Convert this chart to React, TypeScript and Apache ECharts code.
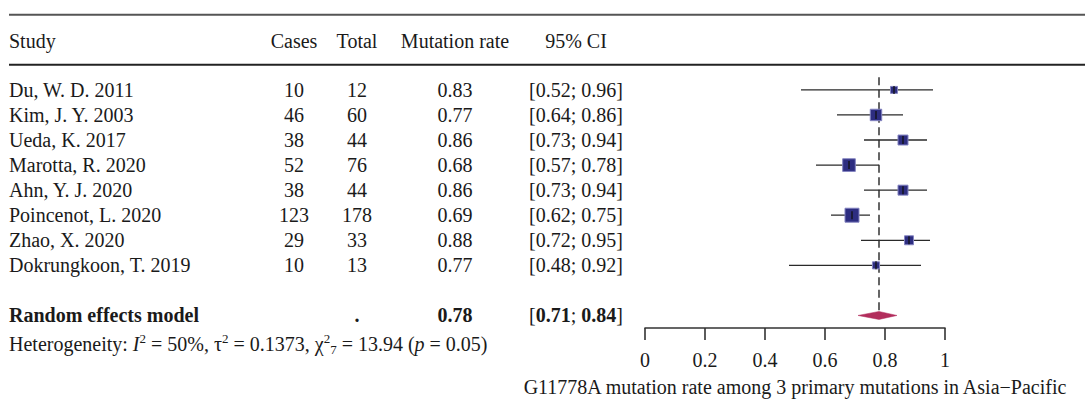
import React, { useEffect, useRef } from "react";
import * as echarts from "echarts";

const studies = [
  "Du, W. D. 2011",
  "Kim, J. Y. 2003",
  "Ueda, K. 2017",
  "Marotta, R. 2020",
  "Ahn, Y. J. 2020",
  "Poincenot, L. 2020",
  "Zhao, X. 2020",
  "Dokrungkoon, T. 2019",
];
const cases = [10, 46, 38, 52, 38, 123, 29, 10];
const totals = [12, 60, 44, 76, 44, 178, 33, 13];
const rates = [0.83, 0.77, 0.86, 0.68, 0.86, 0.69, 0.88, 0.77];
const ciLow = [0.52, 0.64, 0.73, 0.57, 0.73, 0.62, 0.72, 0.48];
const ciHigh = [0.96, 0.86, 0.94, 0.78, 0.94, 0.75, 0.95, 0.92];
const weights = [5.6, 15.2, 11.5, 18.5, 11.5, 22.6, 9.3, 5.8];

const headers = ["Study", "Cases", "Total", "Mutation rate", "95% CI"];
const pooledLabel = "Random effects model";
const pooledRate = 0.78;
const pooledLow = 0.71;
const pooledHigh = 0.84;
const heterogeneity = { i2: "50%", tau2: "0.1373", chi2: "13.94", df: "7", p: "0.05" };
const xTicks = [0, 0.2, 0.4, 0.6, 0.8, 1];
const axisTitle = "G11778A mutation rate among 3 primary mutations in Asia\u2212Pacific";

const FONT = "Liberation Serif";
const FS = 20;
const INK = "#1a1a1a";
const COLS = { study: 9, cases: 294, total: 357, rate: 455, ci: 576 };

const txt = (x: number, y: number, text: string, align = "center", weight = "normal", rich?: any) => ({
  type: "text",
  x,
  y,
  style: {
    text,
    fontFamily: FONT,
    fontSize: FS,
    fontWeight: weight,
    fill: INK,
    align,
    verticalAlign: "middle",
    rich,
  },
});

export default function App() {
  const ref = useRef<HTMLDivElement>(null);
  useEffect(() => {
    document.body.style.margin = "0";
    document.body.style.overflow = "hidden";
    const chart = echarts.init(ref.current!, null, { renderer: "svg" });
    const studyRows = studies.map((_, i) => [rates[i], i, ciLow[i], ciHigh[i], weights[i]]);
    const option: any = {
      animation: false,
      textStyle: { fontFamily: FONT },
      grid: { left: 645, right: 142, top: 14.7, bottom: 70.7 },
      xAxis: {
        type: "value",
        min: xTicks[0],
        max: xTicks[xTicks.length - 1],
        interval: 0.2,
        splitLine: { show: false },
        axisLine: { show: true, onZero: false, lineStyle: { color: "#333", width: 1.6 } },
        axisTick: { show: true, length: 12, lineStyle: { color: "#333", width: 1.6 } },
        axisLabel: { margin: 22, fontFamily: FONT, fontSize: FS, color: INK },
        name: axisTitle,
        nameLocation: "middle",
        nameGap: 49,
        nameTextStyle: { fontFamily: FONT, fontSize: FS, color: INK },
      },
      yAxis: { type: "value", inverse: true, min: -3, max: 9.5, show: false },
      series: [
        {
          type: "custom",
          data: [[0, -3], [0, -1]],
          renderItem: (params: any, api: any) => {
            const y = api.coord([0, api.value(1)])[1];
            return {
              type: "line",
              shape: { x1: 9, y1: y, x2: 1085, y2: y },
              style: { stroke: params.dataIndex === 0 ? "#555" : "#222", lineWidth: 2 },
            };
          },
        },
        {
          type: "custom",
          data: [[0, -1.95]],
          renderItem: (_p: any, api: any) => {
            const y = api.coord([0, api.value(1)])[1];
            return {
              type: "group",
              children: [
                txt(COLS.study, y, headers[0], "left"),
                txt(COLS.cases, y, headers[1]),
                txt(COLS.total, y, headers[2]),
                txt(COLS.rate, y, headers[3]),
                txt(COLS.ci, y, headers[4]),
              ],
            };
          },
        },
        {
          type: "custom",
          data: [[pooledRate, -0.5, 8.8]],
          renderItem: (_p: any, api: any) => {
            const p1 = api.coord([api.value(0), api.value(1)]);
            const p2 = api.coord([api.value(0), api.value(2)]);
            return {
              type: "line",
              shape: { x1: p1[0], y1: p1[1], x2: p2[0], y2: p2[1] },
              style: { stroke: "#333", lineWidth: 1.5, lineDash: [8, 4.5] },
            };
          },
        },
        {
          type: "custom",
          data: studyRows,
          renderItem: (params: any, api: any) => {
            const i = params.dataIndex;
            const row = api.value(1);
            const [cx, cy] = api.coord([api.value(0), row]);
            const xl = api.coord([api.value(2), row])[0];
            const xh = api.coord([api.value(3), row])[0];
            const s = 2.94 * Math.sqrt(api.value(4));
            return {
              type: "group",
              children: [
                txt(COLS.study, cy, studies[i], "left"),
                txt(COLS.cases, cy, String(cases[i])),
                txt(COLS.total, cy, String(totals[i])),
                txt(COLS.rate, cy, rates[i].toFixed(2)),
                txt(COLS.ci, cy, `[${ciLow[i].toFixed(2)}; ${ciHigh[i].toFixed(2)}]`),
                {
                  type: "line",
                  shape: { x1: xl, y1: cy, x2: xh, y2: cy },
                  style: { stroke: "#2a2a2a", lineWidth: 1.3 },
                },
                {
                  type: "rect",
                  shape: { x: cx - s / 2, y: cy - s / 2, width: s, height: s },
                  style: { fill: "#2d2d80", stroke: "#8383c0", lineWidth: 1 },
                },
                {
                  type: "line",
                  shape: { x1: cx, y1: cy - 4, x2: cx, y2: cy + 4 },
                  style: { stroke: "#111", lineWidth: 1.3 },
                },
              ],
            };
          },
        },
        {
          type: "custom",
          data: [[pooledRate, 9, pooledLow, pooledHigh]],
          renderItem: (_p: any, api: any) => {
            const row = api.value(1);
            const [cx, cy] = api.coord([api.value(0), row]);
            const xl = api.coord([api.value(2), row])[0];
            const xh = api.coord([api.value(3), row])[0];
            const bold = { fontFamily: FONT, fontSize: FS, fontWeight: "bold", fill: INK };
            const reg = { fontFamily: FONT, fontSize: FS, fontWeight: "normal", fill: INK };
            return {
              type: "group",
              children: [
                txt(COLS.study, cy, pooledLabel, "left", "bold"),
                txt(COLS.total, cy, ".", "center", "bold"),
                txt(COLS.rate, cy, pooledRate.toFixed(2), "center", "bold"),
                txt(
                  COLS.ci,
                  cy,
                  `{r|[}{b|${pooledLow.toFixed(2)}}{r|; }{b|${pooledHigh.toFixed(2)}}{r|]}`,
                  "center",
                  "normal",
                  { r: reg, b: bold }
                ),
                {
                  type: "polygon",
                  shape: { points: [[xl, cy], [cx, cy - 4], [xh, cy], [cx, cy + 4]] },
                  style: { fill: "#b22d5c", stroke: "#b22d5c", lineWidth: 0.5 },
                },
              ],
            };
          },
        },
        {
          type: "custom",
          data: [[0, 10.15]],
          renderItem: (_p: any, api: any) => {
            const y = api.coord([0, api.value(1)])[1];
            const base = { fontFamily: FONT, fontSize: FS, fill: INK };
            const rich = {
              n: { ...base },
              i: { ...base, fontStyle: "italic" },
              sup: { fontFamily: FONT, fontSize: 13, fill: INK, verticalAlign: "top", lineHeight: 24 },
              sub: { fontFamily: FONT, fontSize: 13, fill: INK, verticalAlign: "bottom", lineHeight: 24 },
            };
            const h = heterogeneity;
            const text =
              `{n|Heterogeneity: }{i|I}{sup|2}{n| = ${h.i2}, \u03c4}{sup|2}{n| = ${h.tau2}, \u03c7}` +
              `{sup|2}{sub|${h.df}}{n| = ${h.chi2} (}{i|p}{n| = ${h.p})}`;
            return txt(COLS.study, y, text, "left", "normal", rich);
          },
        },
      ],
    };
    chart.setOption(option);
    return () => chart.dispose();
  }, []);
  return <div ref={ref} style={{ width: 1087, height: 402, overflow: "hidden" }} />;
}
